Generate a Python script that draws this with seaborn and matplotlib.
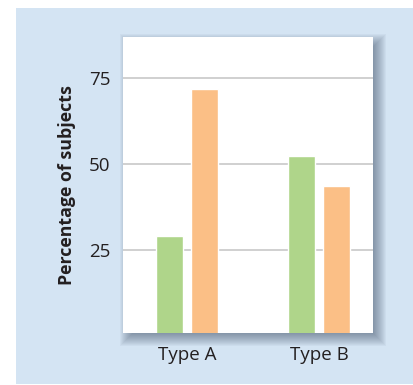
import pandas as pd
import seaborn as sns
import matplotlib.pyplot as plt
from matplotlib.patches import Rectangle

types = ['Type A', 'Type B']
green_vals = [29.3, 52.5]
orange_vals = [71.8, 43.8]
yticks = [25, 50, 75]

df = pd.DataFrame({
    'type': types * 2,
    'group': ['green'] * 2 + ['orange'] * 2,
    'pct': green_vals + orange_vals,
})

sns.set_style('white')
plt.rcParams['font.family'] = ['Open Sans', 'DejaVu Sans']

W, H = 414, 385
fig = plt.figure(figsize=(W / 100, H / 100), dpi=100)
fig.patch.set_facecolor('white')

# light blue panel
fig.patches.append(Rectangle((16 / W, 1 - 384 / H), 1 - 16 / W, 376 / H,
                             transform=fig.transFigure, facecolor='#d4e4f3',
                             edgecolor='none', zorder=-10))

ax_l, ax_t, ax_r, ax_b = 123, 37, 373, 333
# soft drop shadow behind the white plot area (offset down/right, blurred)
dx, dy = 5, 5
for e in range(-6, 9):
    fig.patches.append(Rectangle(((ax_l + dx - e) / W, 1 - (ax_b + dy + e) / H),
                                 (ax_r - ax_l + 2 * e) / W, (ax_b - ax_t + 2 * e) / H,
                                 transform=fig.transFigure, facecolor='#2e4058',
                                 alpha=0.045, edgecolor='none', zorder=-5))

ax = fig.add_axes([ax_l / W, 1 - ax_b / H, (ax_r - ax_l) / W, (ax_b - ax_t) / H])
ax.set_facecolor('white')

sns.barplot(data=df, x='type', y='pct', hue='group',
            palette={'green': '#afd58a', 'orange': '#fbbf86'}, saturation=1,
            width=0.53, gap=0.23, legend=False, ax=ax, zorder=3)

ax.set_ylim(1, 87)
ax.set_xlim(-0.485, 1.405)
ax.set_yticks(yticks)
ax.yaxis.grid(True, color='#c8c8c8', linewidth=1.2, zorder=0)
ax.set_axisbelow(True)
for s in ax.spines.values():
    s.set_visible(False)
ax.tick_params(axis='both', length=0, labelsize=13.5, colors='#231f20')
ax.tick_params(axis='x', pad=9)
ax.tick_params(axis='y', pad=9)
ax.set_xlabel('')
ax.set_ylabel('Percentage of subjects', fontsize=12.8, fontweight='bold',
              color='#231f20', labelpad=9)

fig.savefig('out.png', dpi=100)
